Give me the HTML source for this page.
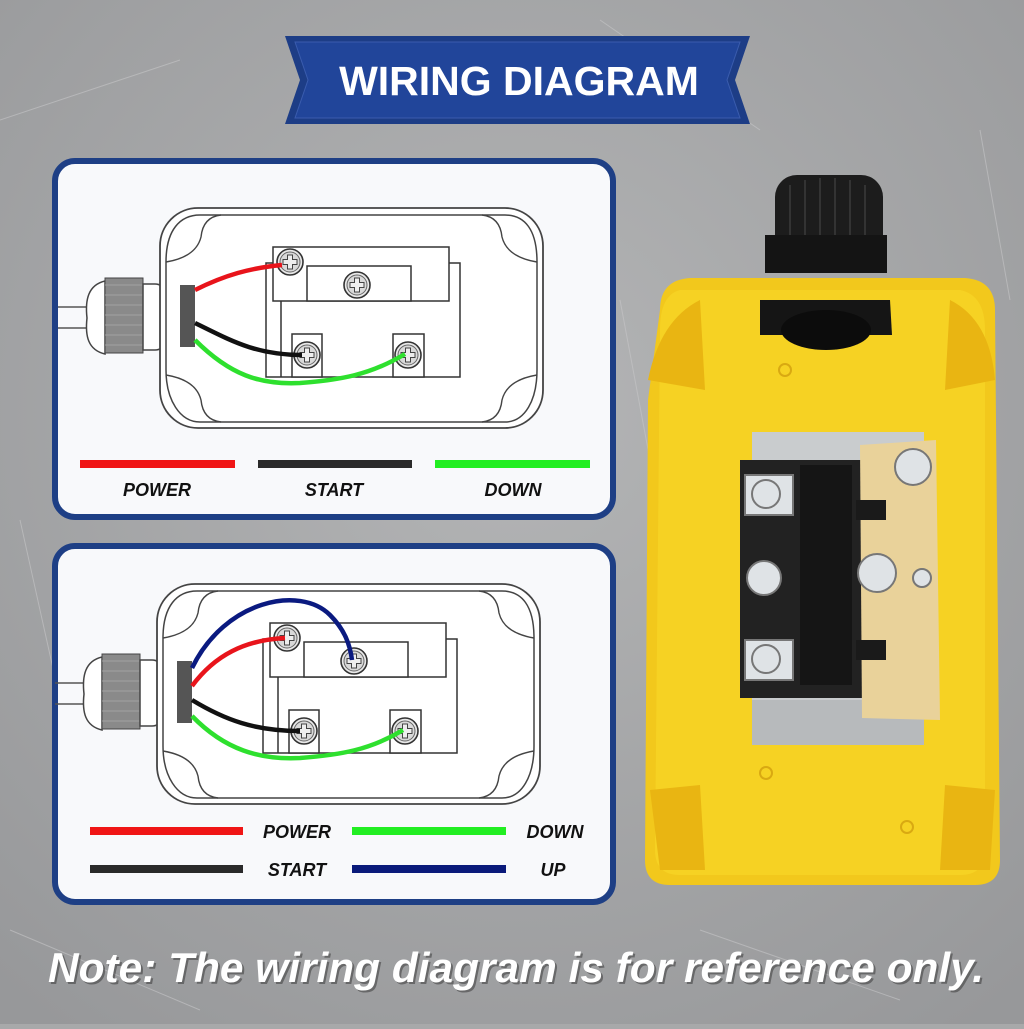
<!DOCTYPE html>
<html><head><meta charset="utf-8"><style>
html,body{margin:0;padding:0}
body{width:1024px;height:1024px;overflow:hidden;background:#a8a9aa;font-family:"Liberation Sans",sans-serif}
</style></head><body>
<svg width="1024" height="1024" viewBox="0 0 1024 1024" xmlns="http://www.w3.org/2000/svg">
<defs>
<radialGradient id="bg" cx="50%" cy="40%" r="75%"><stop offset="0" stop-color="#b4b5b6"/><stop offset="1" stop-color="#97989a"/></radialGradient>
<g id="screw"><circle r="13" fill="#e8e8e8" stroke="#333" stroke-width="1.6"/><circle r="10" fill="#d9d9d9" stroke="#666" stroke-width="1"/><path d="M-2.5,-7h5v4.5h4.5v5h-4.5v4.5h-5v-4.5h-4.5v-5h4.5z" fill="#eee" stroke="#444" stroke-width="1"/></g>
<g id="diag">
 <line x1="58" y1="307" x2="95" y2="307" stroke="#555" stroke-width="1.5"/>
 <line x1="58" y1="328" x2="95" y2="328" stroke="#555" stroke-width="1.5"/>
 <path d="M105,281 C88,285 85,300 87,318 C85,336 88,350 105,354 Z" fill="#fff" stroke="#444" stroke-width="1.5"/>
 <rect x="105" y="278" width="38" height="75" fill="#8a8a8a" stroke="#444"/>
 <g stroke="#aaa" stroke-width="0.8"><line x1="105" y1="285" x2="143" y2="285"/><line x1="105" y1="295" x2="143" y2="295"/><line x1="105" y1="305" x2="143" y2="305"/><line x1="105" y1="315" x2="143" y2="315"/><line x1="105" y1="325" x2="143" y2="325"/><line x1="105" y1="335" x2="143" y2="335"/><line x1="105" y1="345" x2="143" y2="345"/></g>
 <path d="M143,284 h12 q8,0 8,8 v50 q0,8 -8,8 h-12z" fill="#fff" stroke="#444" stroke-width="1.5"/>
 <rect x="160" y="208" width="383" height="220" rx="38" fill="#fff" stroke="#444" stroke-width="1.8"/>
 <path d="M166,262 C166,230 180,215 200,215 L505,215 C525,215 537,230 537,262 L537,370 C537,400 525,422 505,422 L200,422 C180,422 166,400 166,370 Z" fill="#fff" stroke="#444" stroke-width="1.5"/>
 <path d="M166,262 q30,-5 35,-25 q2,-20 20,-22 M537,262 q-30,-5 -35,-25 q-2,-20 -20,-22 M166,375 q30,5 35,25 q2,20 20,22 M537,375 q-30,5 -35,25 q-2,20 -20,22" fill="none" stroke="#444" stroke-width="1.4"/>
 <rect x="180" y="285" width="15" height="62" fill="#555"/>
 <rect x="266" y="263" width="194" height="114" fill="#fff" stroke="#333" stroke-width="1.5"/>
 <rect x="273" y="247" width="176" height="54" fill="#fff" stroke="#333" stroke-width="1.5"/>
 <rect x="307" y="266" width="104" height="35" fill="#fff" stroke="#333" stroke-width="1.5"/>
 <line x1="281" y1="301" x2="281" y2="377" stroke="#333" stroke-width="1.5"/>
 <rect x="292" y="334" width="30" height="43" fill="#fff" stroke="#333" stroke-width="1.5"/>
 <rect x="393" y="334" width="31" height="43" fill="#fff" stroke="#333" stroke-width="1.5"/>
 <use href="#screw" x="290" y="262"/>
 <use href="#screw" x="357" y="285"/>
 <use href="#screw" x="307" y="355"/>
 <use href="#screw" x="408" y="355"/>
</g>
</defs>
<rect width="1024" height="1024" fill="url(#bg)"/>
<g stroke="#c6c7c8" stroke-width="1" fill="none" opacity="0.6">
<path d="M0,120 L180,60 M600,20 L760,130 M20,520 L60,700 M620,300 L650,460 M980,130 L1010,300 M700,930 L900,1000 M10,930 L200,1010"/>
</g>
<!-- banner -->
<path d="M285,36 L750,36 L735,80 L750,124 L285,124 L300,80 Z" fill="#1d3d86"/>
<path d="M295,42 L740,42 L727,80 L740,118 L295,118 L308,80 Z" fill="#21459a" stroke="#3a5cae" stroke-width="1"/>
<text x="519" y="95" text-anchor="middle" font-family="Liberation Sans" font-weight="bold" font-size="41" fill="#fff">WIRING DIAGRAM</text>
<!-- panel 1 -->
<rect x="55" y="161" width="558" height="356" rx="20" fill="#f8f9fb" stroke="#1e3f85" stroke-width="6"/>
<use href="#diag"/>
<path d="M195,290 C225,275 250,268 282,265" fill="none" stroke="#e8141b" stroke-width="4.5"/>
<path d="M195,323 C230,340 255,355 302,355" fill="none" stroke="#111" stroke-width="4.5"/>
<path d="M195,340 C230,375 260,385 300,383 C340,380 370,375 405,354" fill="none" stroke="#2ee02e" stroke-width="4.5"/>
<rect x="80" y="460" width="155" height="8" fill="#f01515"/>
<rect x="258" y="460" width="154" height="8" fill="#2a2a2a"/>
<rect x="435" y="460" width="155" height="8" fill="#22ee22"/>
<g font-family="Liberation Sans" font-weight="bold" font-style="italic" font-size="18" fill="#111" text-anchor="middle">
<text x="157" y="496">POWER</text><text x="334" y="496">START</text><text x="513" y="496">DOWN</text>
</g>
<!-- panel 2 -->
<rect x="55" y="546" width="558" height="356" rx="20" fill="#f8f9fb" stroke="#1e3f85" stroke-width="6"/>
<g transform="translate(-3,376)"><use href="#diag"/></g>
<path d="M192,668 C225,600 300,585 330,615 C345,630 350,645 352,660" fill="none" stroke="#0a1a80" stroke-width="4.5"/>
<path d="M192,686 C215,655 245,640 285,638" fill="none" stroke="#e8141b" stroke-width="4.5"/>
<path d="M192,700 C225,720 255,731 300,731" fill="none" stroke="#111" stroke-width="4.5"/>
<path d="M192,716 C225,750 260,760 300,758 C340,755 370,750 403,730" fill="none" stroke="#2ee02e" stroke-width="4.5"/>
<rect x="90" y="827" width="153" height="8" fill="#f01515"/>
<rect x="352" y="827" width="154" height="8" fill="#22ee22"/>
<rect x="90" y="865" width="153" height="8" fill="#2a2a2a"/>
<rect x="352" y="865" width="154" height="8" fill="#0a1a7a"/>
<g font-family="Liberation Sans" font-weight="bold" font-style="italic" font-size="18" fill="#111" text-anchor="middle">
<text x="297" y="838">POWER</text><text x="555" y="838">DOWN</text><text x="297" y="876">START</text><text x="553" y="876">UP</text>
</g>
<!-- photo -->
<rect x="775" y="175" width="108" height="95" rx="22" fill="#1c1c1c"/>
<g stroke="#333" stroke-width="2"><line x1="790" y1="185" x2="790" y2="265"/><line x1="805" y1="180" x2="805" y2="265"/><line x1="820" y1="178" x2="820" y2="265"/><line x1="835" y1="178" x2="835" y2="265"/><line x1="850" y1="180" x2="850" y2="265"/><line x1="865" y1="185" x2="865" y2="265"/></g>
<rect x="765" y="235" width="122" height="38" fill="#141414"/>
<path d="M660,310 Q660,280 690,278 L965,278 Q995,280 995,310 L1000,860 Q1000,885 975,885 L670,885 Q645,885 645,860 L648,400 Z" fill="#f2c81c"/>
<path d="M680,290 L960,290 Q985,295 985,330 L985,850 Q985,875 960,875 L680,875 Q655,875 655,850 L660,330 Q660,295 680,290Z" fill="#f6d223"/>
<path d="M648,380 Q660,320 700,300 L705,390 Z M995,380 Q990,320 950,300 L945,390 Z M650,790 L700,785 L705,870 L660,870Z M995,790 L945,785 L940,870 L990,870Z" fill="#e9b512"/>
<path d="M760,300 L890,300 L892,335 L760,335Z" fill="#151515"/>
<ellipse cx="826" cy="330" rx="45" ry="20" fill="#0c0c0c"/>
<rect x="752" y="432" width="172" height="313" fill="#c9ccce"/>
<rect x="752" y="700" width="172" height="45" fill="#b7babc"/>
<rect x="740" y="460" width="122" height="238" fill="#222"/>
<rect x="800" y="465" width="52" height="220" fill="#151515"/>
<path d="M860,445 L936,440 L940,720 L862,718 Z" fill="#e9d29a"/>
<rect x="856" y="500" width="30" height="20" fill="#1a1a1a"/>
<rect x="856" y="640" width="30" height="20" fill="#1a1a1a"/>
<g fill="#dfe3e6" stroke="#777" stroke-width="2">
<rect x="745" y="475" width="48" height="40"/><circle cx="766" cy="494" r="14"/>
<circle cx="764" cy="578" r="17"/>
<rect x="745" y="640" width="48" height="40"/><circle cx="766" cy="659" r="14"/>
<circle cx="913" cy="467" r="18"/>
<circle cx="877" cy="573" r="19"/>
<circle cx="922" cy="578" r="9"/>
</g>
<circle cx="766" cy="773" r="6" fill="none" stroke="#d9a912" stroke-width="2"/>
<circle cx="907" cy="827" r="6" fill="none" stroke="#d9a912" stroke-width="2"/>
<circle cx="785" cy="370" r="6" fill="none" stroke="#d9a912" stroke-width="2"/>
<!-- note -->
<text x="518" y="984" text-anchor="middle" font-family="Liberation Sans" font-weight="bold" font-style="italic" font-size="42" fill="#333" opacity="0.5" textLength="936" lengthAdjust="spacingAndGlyphs">Note: The wiring diagram is for reference only.</text>
<text x="516" y="982" text-anchor="middle" font-family="Liberation Sans" font-weight="bold" font-style="italic" font-size="42" fill="#fff" textLength="936" lengthAdjust="spacingAndGlyphs">Note: The wiring diagram is for reference only.</text>
</svg>
</body></html>
